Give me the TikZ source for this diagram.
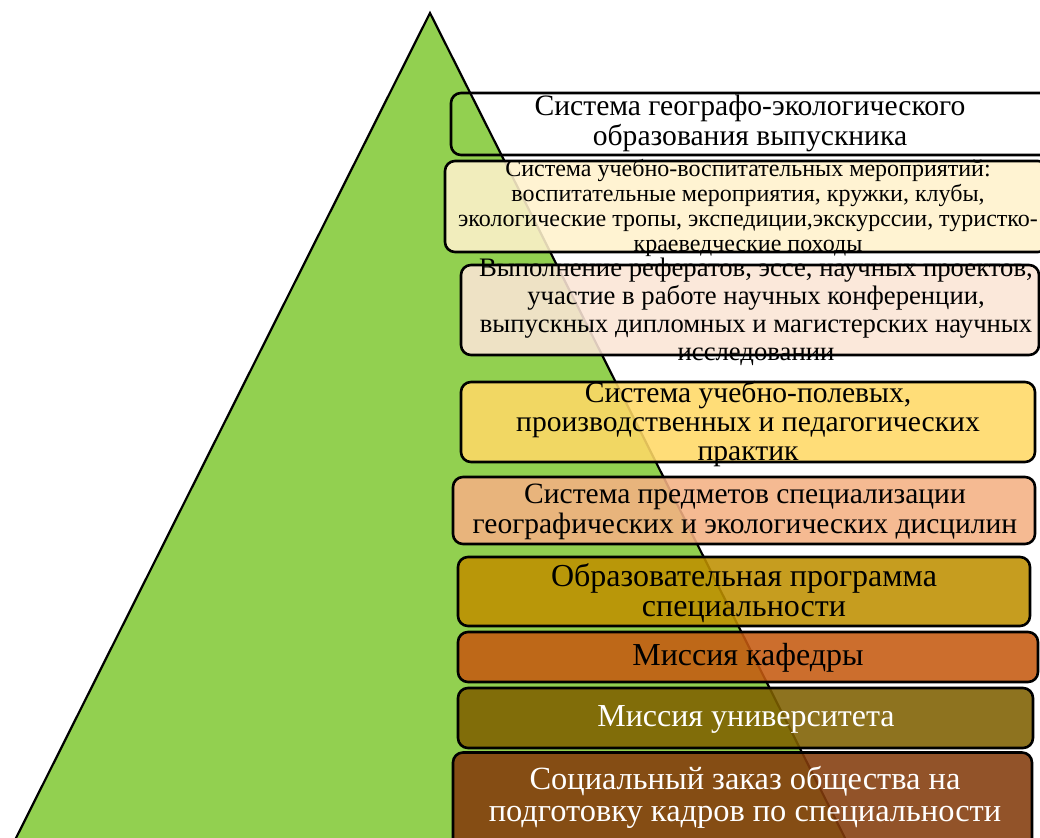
\documentclass[tikz,border=0pt]{standalone}
\usepackage{fontspec}
\setmainfont{Liberation Serif}
\definecolor{trigreen}{HTML}{92D050}
\definecolor{cB}{HTML}{FFF2CC}
\definecolor{cC}{HTML}{FBE5D6}
\definecolor{cD}{HTML}{FFD966}
\definecolor{cE}{HTML}{F4B183}
\definecolor{cF}{HTML}{BF9000}
\definecolor{cG}{HTML}{C55A11}
\definecolor{cH}{HTML}{7F6000}
\definecolor{cI}{HTML}{843C0C}
\tikzset{
  boxst/.style={draw=black, line width=2.6pt, rounded corners=10pt, fill opacity=0.88, inner sep=0pt},
  txt/.style={align=center, inner sep=0pt, text opacity=1},
}
\begin{document}
\begin{tikzpicture}[x=1pt,y=-1pt]
\clip (0,0) rectangle (1040,837);
\fill[white] (0,0) rectangle (1040,837);
% pyramid
\draw[fill=trigreen, line width=2.2pt, line join=miter] (15,840) -- (430,13) -- (846,840);
% boxes
\node[boxst, minimum width=600pt, minimum height=62pt] (b1) at (751,124) {};
\node[boxst, fill=cB, minimum width=603pt, minimum height=91pt] (b2) at (746.5,206.5) {};
\node[boxst, fill=cC, minimum width=578pt, minimum height=90pt] (b3) at (750,310) {};
\node[boxst, fill=cD, minimum width=574pt, minimum height=80pt] (b4) at (748,422) {};
\node[boxst, fill=cE, minimum width=582pt, minimum height=67pt] (b5) at (744,510.5) {};
\node[boxst, fill=cF, minimum width=572pt, minimum height=69pt] (b6) at (744,591.5) {};
\node[boxst, fill=cG, minimum width=580pt, minimum height=50pt] (b7) at (748,657) {};
\node[boxst, fill=cH, minimum width=575pt, minimum height=60pt] (b8) at (745.5,718) {};
\node[boxst, fill=cI, minimum width=579pt, minimum height=95pt] (b9) at (742.5,800) {};
% texts
\node[txt, font=\fontsize{29.6}{30}\selectfont] (t1) at (750,123) {Система географо-экологического\\образования выпускника};
\node[txt, font=\fontsize{24}{25}\selectfont] (t2) at (748,208) {Система учебно-воспитательных мероприятий:\\воспитательные мероприятия, кружки, клубы,\\экологические тропы, экспедиции,экскурссии, туристко-\\краеведческие походы};
\node[txt, font=\fontsize{26.7}{28}\selectfont] (t3) at (756,312) {Выполнение рефератов, эссе, научных проектов,\\участие в работе научных конференции,\\выпускных дипломных и магистерских научных\\исследовании};
\node[txt, font=\fontsize{29.6}{29}\selectfont] (t4) at (748,424) {Система учебно-полевых,\\производственных и педагогических\\практик};
\node[txt, font=\fontsize{29.5}{29.5}\selectfont] (t5) at (745,512) {Система предметов специализации\\географических и экологических дисцилин};
\node[txt, font=\fontsize{32}{30}\selectfont] (t6) at (744,593) {Образовательная программа\\специальности};
\node[txt, font=\fontsize{32}{30}\selectfont] (t7) at (748,658) {Миссия кафедры};
\node[txt, font=\fontsize{32}{30}\selectfont, text=white] (t8) at (746,719) {Миссия университета};
\node[txt, font=\fontsize{32.4}{32}\selectfont, text=white] (t9) at (745,797) {Социальный заказ общества на\\подготовку кадров по специальности};
\end{tikzpicture}
\end{document}
